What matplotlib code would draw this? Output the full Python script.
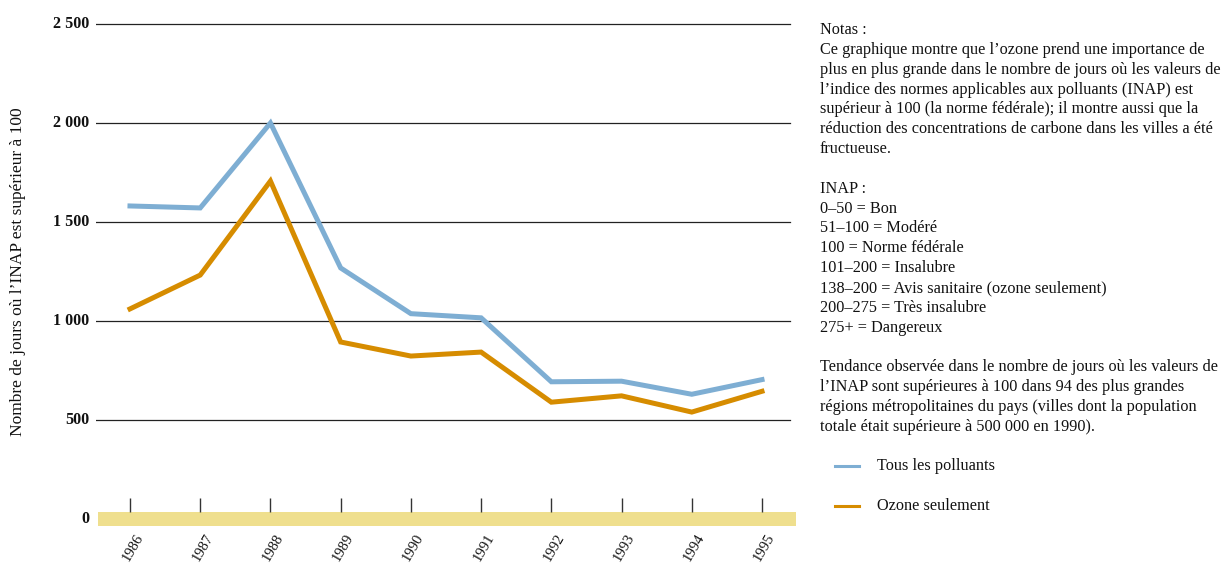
import matplotlib
matplotlib.use("Agg")
import matplotlib.pyplot as plt

plt.rcParams["font.family"] = ["Liberation Serif", "DejaVu Serif"]

years = [1986, 1987, 1988, 1989, 1990, 1991, 1992, 1993, 1994, 1995]
tous_polluants = [1581, 1571, 2000, 1268, 1037, 1016, 693, 696, 630, 704]
ozone_seulement = [1061, 1232, 1707, 894, 823, 843, 590, 622, 540, 645]
y_ticks = [0, 500, 1000, 1500, 2000, 2500]
y_tick_labels = ["0", "500", "1 000", "1 500", "2 000", "2 500"]
series_names = ["Tous les polluants", "Ozone seulement"]
y_label = "Nombre de jours où l’INAP est supérieur à 100"

notes_lines = [
    "Notas :",
    "Ce graphique montre que l’ozone prend une importance de",
    "plus en plus grande dans le nombre de jours où les valeurs de",
    "l’indice des normes applicables aux polluants (INAP) est",
    "supérieur à 100 (la norme fédérale); il montre aussi que la",
    "réduction des concentrations de carbone dans les villes a été",
    "fructueuse.",
    "",
    "INAP :",
    "0–50 = Bon",
    "51–100 = Modéré",
    "100 = Norme fédérale",
    "101–200 = Insalubre",
    "138–200 = Avis sanitaire (ozone seulement)",
    "200–275 = Très insalubre",
    "275+ = Dangereux",
    "",
    "Tendance observée dans le nombre de jours où les valeurs de",
    "l’INAP sont supérieures à 100 dans 94 des plus grandes",
    "régions métropolitaines du pays (villes dont la population",
    "totale était supérieure à 500 000 en 1990).",
]

BLUE = "#7eaed3"
ORANGE = "#d68c00"
BAND = "#efdf8e"

W, H = 1223, 566
fig = plt.figure(figsize=(W / 100, H / 100), dpi=100)

# axes placement (pixel geometry converted to figure fractions)
x_left_px, x_right_px = 96, 796
y_top_px, y_bot_px = 14.1, 538.8
ax = fig.add_axes([x_left_px / W, 1 - y_bot_px / H,
                   (x_right_px - x_left_px) / W, (y_bot_px - y_top_px) / H])
ax.set_xlim(1985.516, 1995.484)
ax.set_ylim(-100, 2550)
for s in ax.spines.values():
    s.set_visible(False)
ax.set_xticks([])
ax.set_yticks([])

# horizontal grid lines
for v in y_ticks[1:]:
    ax.plot([1985.516, 1995.40], [v, v], color="#222222", lw=0.9, zorder=1)

# baseline band and year ticks
ax.axhspan(-35, 35, xmin=0.003, xmax=1.0, color=BAND, lw=0, zorder=1)
ax.vlines(years, 35, 106, color="#333333", lw=1.0, zorder=1)

ax.plot(years, tous_polluants, color=BLUE, lw=3.6, zorder=3,
        solid_joinstyle="miter")
ax.plot(years, ozone_seulement, color=ORANGE, lw=3.6, zorder=3,
        solid_joinstyle="miter")

# y tick labels
for v, lab in zip(y_ticks, y_tick_labels):
    ax.text(1985.516 - 7 / 70.22, v, lab, ha="right", va="center",
            fontsize=11.6, fontweight="bold", color="#111111")

# year labels
for yr in years:
    ax.text(yr + 0.06, -62, str(yr), rotation=60, ha="right", va="top",
            rotation_mode="anchor", fontsize=10.5, color="#111111")

fig.text(18 / W, 1 - 272 / H, y_label, rotation=90, ha="center", va="center",
         fontsize=12.5, color="#111111")

# notes column
x0 = 820 / W
y0 = 30
step = 19.85
for i, line in enumerate(notes_lines):
    if line:
        fig.text(x0, 1 - (y0 + i * step) / H, line, ha="left", va="center",
                 fontsize=11.7, color="#111111")

# legend
for name, col, ypx in zip(series_names, [BLUE, ORANGE], [466, 506]):
    fig.add_artist(plt.Line2D([835 / W, 859 / W], [1 - ypx / H, 1 - ypx / H],
                              color=col, lw=2.2))
    fig.text(877 / W, 1 - ypx / H, name, ha="left", va="center",
             fontsize=11.7, color="#111111")

fig.savefig("out.png", dpi=100)
